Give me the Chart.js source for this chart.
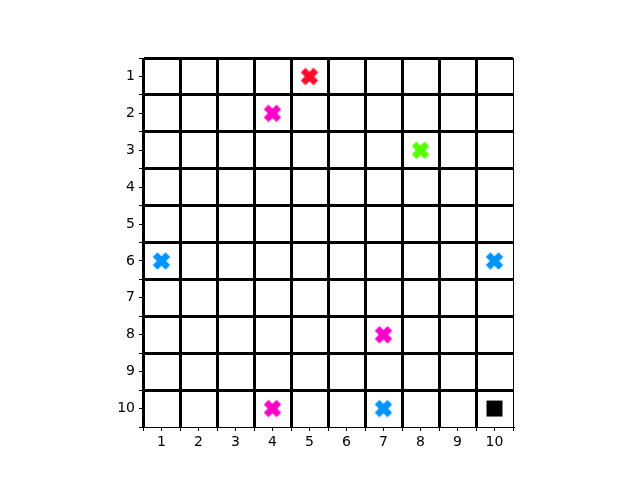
<!DOCTYPE html>
<html>
<head>
<meta charset="utf-8">
<script src="https://cdn.jsdelivr.net/npm/chart.js@4"></script>
<style>
  html, body { margin: 0; padding: 0; background: #ffffff; }
  #wrap { width: 640px; height: 480px; }
</style>
</head>
<body>
<div id="wrap"><canvas id="grid"></canvas></div>
<script>
// marker positions (column, row) per colour group
const redX = [5];
const redY = [1];
const magentaX = [4, 7, 4];
const magentaY = [2, 8, 10];
const greenX = [8];
const greenY = [3];
const blueX = [1, 10, 7];
const blueY = [6, 6, 10];
const squareX = [10];
const squareY = [10];
const tickLabels = ["1", "2", "3", "4", "5", "6", "7", "8", "9", "10"];

function toPoints(xs, ys) {
  return xs.map((x, i) => ({ x: x, y: ys[i] }));
}

// filled "X" marker drawn once on a small canvas
function makeX(color) {
  const c = document.createElement("canvas");
  c.width = 20;
  c.height = 20;
  const g = c.getContext("2d");
  g.fillStyle = color;
  g.translate(10, 10);
  g.rotate(Math.PI / 4);
  g.fillRect(-9, -3.3, 18, 6.6);
  g.fillRect(-3.3, -9, 6.6, 18);
  return c;
}

function isHalf(v) {
  return Math.abs(v - Math.round(v)) > 0.01;
}

function gridColor(ctx) {
  const v = ctx.tick ? ctx.tick.value : 0;
  return isHalf(v) ? "#000000" : "rgba(0,0,0,0)";
}

function gridWidth(ctx) {
  const v = ctx.tick ? ctx.tick.value : 0;
  if (v > 10.4) return 1;
  return isHalf(v) ? 3 : 1;
}

function tickLabel(value) {
  if (isHalf(value)) return "";
  return tickLabels[Math.round(value) - 1] || "";
}

const axisFont = { family: "DejaVu Sans", size: 14 };

new Chart(document.getElementById("grid"), {
  type: "scatter",
  data: {
    datasets: [
      { data: toPoints(redX, redY), pointStyle: makeX("#ff0a2e") },
      { data: toPoints(magentaX, magentaY), pointStyle: makeX("#ff00c8") },
      { data: toPoints(greenX, greenY), pointStyle: makeX("#55ff00") },
      { data: toPoints(blueX, blueY), pointStyle: makeX("#0094ff") },
      {
        data: toPoints(squareX, squareY),
        pointStyle: "rect",
        pointRadius: 11.3,
        backgroundColor: "#000000",
        borderColor: "#000000",
        borderWidth: 0,
      },
    ],
  },
  options: {
    responsive: true,
    maintainAspectRatio: false,
    animation: false,
    events: [],
    layout: { padding: { left: 0, top: 58, right: 127, bottom: 0 } },
    plugins: { legend: { display: false }, tooltip: { enabled: false } },
    scales: {
      x: {
        type: "linear",
        min: 0.5,
        max: 10.5,
        afterFit: (scale) => { scale.height = 53; },
        border: { display: true, color: "#000000", width: 1 },
        grid: {
          color: gridColor,
          lineWidth: gridWidth,
          drawTicks: true,
          tickLength: 4,
          tickColor: "#000000",
          tickWidth: 1,
        },
        ticks: {
          stepSize: 0.5,
          autoSkip: false,
          maxRotation: 0,
          padding: 3,
          color: "#000000",
          font: axisFont,
          callback: tickLabel,
        },
      },
      y: {
        type: "linear",
        reverse: true,
        min: 0.5,
        max: 10.5,
        afterFit: (scale) => { scale.width = 143; },
        border: { display: true, color: "#000000", width: 1 },
        grid: {
          color: gridColor,
          lineWidth: gridWidth,
          drawTicks: true,
          tickLength: 4,
          tickColor: "#000000",
          tickWidth: 1,
        },
        ticks: {
          stepSize: 0.5,
          autoSkip: false,
          padding: 4,
          color: "#000000",
          font: axisFont,
          callback: tickLabel,
        },
      },
    },
  },
});
</script>
</body>
</html>
